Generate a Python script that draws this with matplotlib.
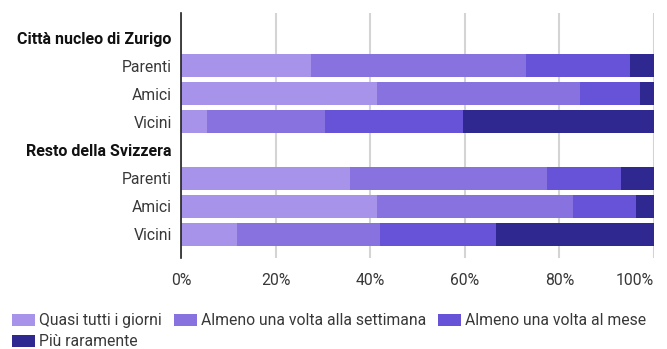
import numpy as np
import matplotlib
matplotlib.use("Agg")
import matplotlib.pyplot as plt
from matplotlib.patches import Patch

plt.rcParams["font.family"] = ["Roboto", "DejaVu Sans"]

# rows top to bottom; group headings carry no bars
row_labels = ["Città nucleo di Zurigo", "Parenti", "Amici", "Vicini",
              "Resto della Svizzera", "Parenti", "Amici", "Vicini"]
heading_rows = [0, 4]
bar_rows = [1, 2, 3, 5, 6, 7]

series = ["Quasi tutti i giorni", "Almeno una volta alla settimana",
          "Almeno una volta al mese", "Più raramente"]
quasi_tutti = [27.4, 41.4, 5.4, 35.7, 41.4, 11.7]
settimana = [45.5, 42.9, 25.0, 41.7, 41.5, 30.3]
mese = [22.0, 12.7, 29.2, 15.6, 13.3, 24.6]
raramente = [5.1, 3.0, 40.4, 7.0, 3.8, 33.4]

colors = ["#a794ea", "#8772e0", "#6653d7", "#2e2890"]
text_col = "#383838"

fig = plt.figure(figsize=(6.67, 3.49), dpi=100)
ax = fig.add_axes([0.2721, 0.2607, 0.7084, 0.7021])

left = np.zeros(len(bar_rows))
for vals, col in zip([quasi_tutti, settimana, mese, raramente], colors):
    ax.barh(bar_rows, vals, left=left, height=0.82, color=col, zorder=2)
    left += np.array(vals)

ax.set_xlim(0, 100)
ax.set_ylim(7.84, -0.875)
ax.set_xticks(range(0, 101, 20))
ax.set_xticklabels([f"{v}%" for v in range(0, 101, 20)],
                   fontsize=11.3, color=text_col)
# keep the last label inside the figure
ax.get_xticklabels()[-1].set_horizontalalignment("right")
ax.set_yticks(range(len(row_labels)))
ax.set_yticklabels(row_labels, fontsize=11.3)
for i, t in enumerate(ax.get_yticklabels()):
    if i in heading_rows:
        t.set_fontweight("bold")
        t.set_fontsize(11.5)
        t.set_color("#111111")
    else:
        t.set_color(text_col)

ax.tick_params(axis="y", length=0, pad=7)
ax.tick_params(axis="x", length=0, pad=11)
ax.grid(axis="x", color="#d4d4d4", linewidth=1.5, zorder=0)
for side in ["top", "right", "bottom"]:
    ax.spines[side].set_visible(False)
ax.spines["left"].set_color("#222222")
ax.spines["left"].set_linewidth(1.2)
ax.spines["left"].set_zorder(3)

handles = [Patch(facecolor=c, label=s) for c, s in zip(colors, series)]
order = [0, 3, 1, 2]
leg = fig.legend([handles[i] for i in order], [series[i] for i in order],
                 ncol=3, loc="upper left", bbox_to_anchor=(0.018, 0.103),
                 frameon=False, fontsize=11.3, handlelength=1.45,
                 handleheight=0.8, handletextpad=0.25, columnspacing=0.8,
                 labelspacing=0.4, borderaxespad=0, borderpad=0.0)
for t in leg.get_texts():
    t.set_color(text_col)

fig.savefig("out.png", dpi=100)
